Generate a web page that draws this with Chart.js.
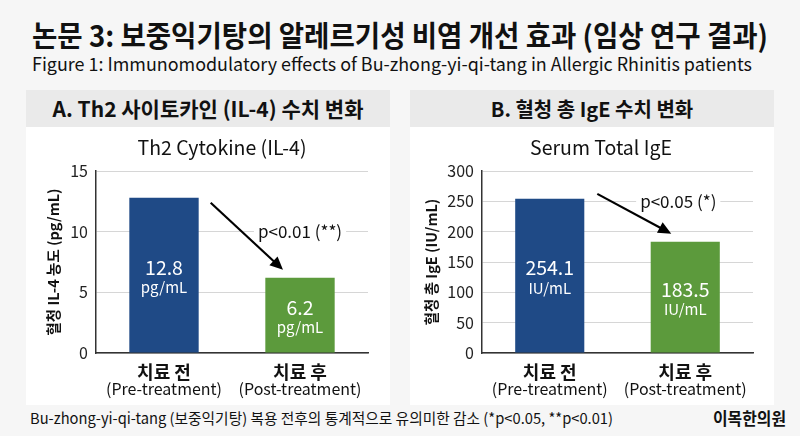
<!DOCTYPE html>
<html><head><meta charset="utf-8">
<script src="https://cdn.jsdelivr.net/npm/chart.js@4"></script>
<style>
html,body{margin:0;padding:0;}
body{width:800px;height:436px;background:#f6f6f6;position:relative;overflow:hidden;font-family:"Noto Sans CJK KR","Noto Sans",sans-serif;color:#111;}
.fit{position:absolute;white-space:nowrap;transform-origin:0 50%;line-height:1;}
.panel{position:absolute;background:#fff;top:90px;width:364px;height:315px;}
.phead{position:absolute;left:0;top:0;width:100%;height:37px;background:#eaeaea;text-align:center;font-weight:bold;font-size:20.5px;line-height:37px;}
.cbox{position:absolute;left:0;top:37px;width:364px;height:275px;}
</style></head>
<body>
<div class="fit" id="t1" data-w="736" style="left:32px;top:20px;font-size:29px;font-weight:bold;">논문 3: 보중익기탕의 알레르기성 비염 개선 효과 (임상 연구 결과)</div>
<div class="fit" id="t2" data-w="720" style="left:32px;top:54px;font-size:18px;">Figure 1: Immunomodulatory effects of Bu-zhong-yi-qi-tang in Allergic Rhinitis patients</div>
<div class="panel" style="left:26px;"><div class="phead" style="font-size:21px;">A. Th2 사이토카인 (IL-4) 수치 변화</div><div class="cbox"><canvas id="c1"></canvas></div></div>
<div class="panel" style="left:410px;"><div class="phead" style="font-size:20px;">B. 혈청 총 IgE 수치 변화</div><div class="cbox"><canvas id="c2"></canvas></div></div>
<div class="fit" id="f1" data-w="583" style="left:30px;top:410px;font-size:15px;">Bu-zhong-yi-qi-tang (보중익기탕) 복용 전후의 통계적으로 유의미한 감소 (*p&lt;0.05, **p&lt;0.01)</div>
<div class="fit" id="f2" data-w="73" style="left:713px;top:409px;font-size:17px;font-weight:bold;">이목한의원</div>
<script>
// ---- data ----
const categoriesKo = ["치료 전", "치료 후"];
const categoriesEn = ["(Pre-treatment)", "(Post-treatment)"];
const il4Values = [12.8, 6.2];
const igeValues = [254.1, 183.5];
const il4Ticks = [0, 5, 10, 15];
const igeTicks = [0, 50, 100, 150, 200, 250, 300];
const il4Unit = "pg/mL";
const igeUnit = "IU/mL";
const il4PText = "p<0.01 (**)";
const igePText = "p<0.05 (*)";
const barColors = ["#1f4a86", "#5c9a3c"];

document.querySelectorAll('.fit').forEach(el=>{
  const w = el.getBoundingClientRect().width;
  const target = +el.dataset.w;
  el.style.transform = 'scaleX(' + (target / w) + ')';
});

const FONT = '"Noto Sans CJK KR","Noto Sans",sans-serif';

function makeChart(id, title, titleDx, yTitle, yTitlePad, values, ticks, unit, pText, yWidth, rightPad, arrowCfg) {
  const annot = {
    id: 'annot',
    afterDatasetsDraw(chart) {
      const ctx = chart.ctx;
      const x = chart.scales.x, y = chart.scales.y;
      const meta = chart.getDatasetMeta(0);
      ctx.save();
      ctx.textAlign = 'center';
      ctx.textBaseline = 'middle';
      // chart title
      ctx.fillStyle = '#111';
      ctx.font = '19.5px ' + FONT;
      ctx.fillText(title, chart.width / 2 + titleDx, 21);
      ctx.fillStyle = '#fff';
      values.forEach((v, i) => {
        const bx = meta.data[i].x;
        const mid = (y.getPixelForValue(v) + y.getPixelForValue(0)) / 2;
        ctx.font = '19.5px ' + FONT;
        ctx.fillText(String(v.toFixed(1)), bx, mid - 8);
        ctx.font = '15px ' + FONT;
        ctx.fillText(unit, bx, mid + 12);
      });
      // category labels
      ctx.fillStyle = '#111';
      categoriesKo.forEach((c, i) => {
        const cx = x.getPixelForValue(i);
        ctx.font = 'bold 18px ' + FONT;
        ctx.fillText(c, cx, y.bottom + 19);
        ctx.font = '16px ' + FONT;
        ctx.fillText(categoriesEn[i], cx, y.bottom + 36);
      });
      // p-value text with white bg
      const pv = y.getPixelForValue(arrowCfg.textVal);
      const px = x.getPixelForValue(1) + arrowCfg.textDx;
      ctx.font = '17px ' + FONT;
      const tw = ctx.measureText(pText).width;
      ctx.fillStyle = '#fff';
      ctx.fillRect(px - tw/2 - 4, pv - 10, tw + 8, 20);
      ctx.fillStyle = '#111';
      ctx.fillText(pText, px, pv);
      // arrow
      const x0 = meta.data[0].x + meta.data[0].width/2 + arrowCfg.dx0;
      const y0 = y.getPixelForValue(values[0]) + arrowCfg.dy0;
      const x1 = meta.data[1].x + arrowCfg.dx1;
      const y1 = y.getPixelForValue(values[1]) + arrowCfg.dy1;
      const ang = Math.atan2(y1 - y0, x1 - x0);
      const hl = 13, hw = 6;
      ctx.strokeStyle = '#000'; ctx.lineWidth = 2.2;
      ctx.beginPath(); ctx.moveTo(x0, y0);
      ctx.lineTo(x1 - Math.cos(ang)*hl*0.8, y1 - Math.sin(ang)*hl*0.8); ctx.stroke();
      ctx.fillStyle = '#000';
      ctx.beginPath();
      ctx.moveTo(x1, y1);
      ctx.lineTo(x1 - Math.cos(ang)*hl - Math.sin(ang)*hw, y1 - Math.sin(ang)*hl + Math.cos(ang)*hw);
      ctx.lineTo(x1 - Math.cos(ang)*hl + Math.sin(ang)*hw, y1 - Math.sin(ang)*hl - Math.cos(ang)*hw);
      ctx.closePath(); ctx.fill();
      ctx.restore();
    }
  };
  return new Chart(document.getElementById(id), {
    type: 'bar',
    data: { labels: categoriesKo, datasets: [{ data: values, backgroundColor: barColors, barPercentage: 0.51, categoryPercentage: 1.0 }] },
    options: {
      responsive: true, maintainAspectRatio: false, animation: false,
      layout: { padding: { top: 44, right: rightPad, left: 0, bottom: 0 } },
      plugins: {
        legend: { display: false }, tooltip: { enabled: false },
        title: { display: false }
      },
      scales: {
        x: {
          ticks: { display: false },
          grid: { display: false },
          border: { display: true, color: '#333', width: 1.5 },
          afterFit(s) { s.height = 49; }
        },
        y: {
          min: ticks[0], max: ticks[ticks.length - 1],
          afterBuildTicks(s) { s.ticks = ticks.map(v => ({ value: v })); },
          ticks: { color: '#222', font: { family: FONT, size: 16 }, padding: 8 },
          grid: { color: '#d6d6d6', drawTicks: false, lineWidth: 1 },
          border: { display: true, color: '#333', width: 1.5 },
          title: { display: true, text: yTitle, color: '#111', font: { family: FONT, size: 14.5, weight: 'bold' }, padding: { top: yTitlePad, bottom: 4 } },
          afterFit(s) { s.width = yWidth; }
        }
      }
    },
    plugins: [annot]
  });
}

makeChart('c1', 'Th2 Cytokine (IL-4)', 14, '혈청 IL-4 농도 (pg/mL)', 19, il4Values, il4Ticks, il4Unit, il4PText, 70, 22,
  { dx0: 12, dy0: 5, dx1: -17, dy1: -8, textVal: 10, textDx: 0 });
makeChart('c2', 'Serum Total IgE', 9, '혈청 총 IgE (IU/mL)', 13, igeValues, igeTicks, igeUnit, igePText, 72, 21,
  { dx0: 13, dy0: -5, dx1: -14, dy1: -8, textVal: 250, textDx: -7 });
</script>
</body></html>
